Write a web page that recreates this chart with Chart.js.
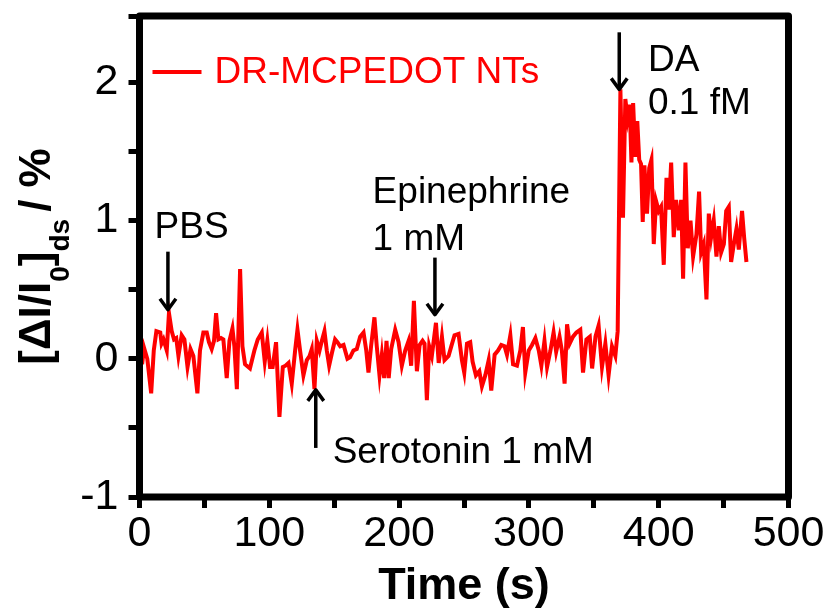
<!DOCTYPE html>
<html>
<head>
<meta charset="utf-8">
<title>DR-MCPEDOT NTs response</title>
<script src="https://cdn.jsdelivr.net/npm/chart.js@4.4.0/dist/chart.umd.min.js"></script>
<style>
    html, body { margin: 0; padding: 0; background: #fff; }
    canvas { display: block; }
</style>
</head>
<body>
<canvas id="responseChart" width="831" height="616"></canvas>
<script>
// Time (s) and normalized response [ΔI/I0]ds (%)
const times = [
    2, 3.5, 6, 9, 11, 13, 16, 17, 18.5, 21, 22.7, 24.8, 26.6, 28.3, 30, 32.5, 34.6, 37, 39.3, 41.5,
    44.6, 46.6, 49.2, 51.8, 53.5, 55.6, 57.4, 59, 60.8, 62.8, 64.6, 67.2, 69.3, 71.6, 73.1, 75, 77.5, 79.3, 81.3, 85.1,
    88.5, 91.1, 94.2, 96.5, 98.5, 100.6, 102.6, 105.2, 107.8, 110.4, 112.5, 114.8, 117.3, 119.9, 121.7, 123.7, 126.3, 128.9, 131, 132.7,
    134.8, 136.6, 138.7, 140.5, 142.5, 144.3, 146.1, 148.2, 150.7, 152.5, 154.6, 157.2, 160.2, 162.2, 164.8, 167.4, 170, 172.6, 174.7, 176.4,
    178.4, 181, 182.8, 184.9, 186.7, 188.5, 190.3, 192, 193.9, 197, 199.6, 202.1, 204.7, 207.3, 209.3, 211.4, 213.7, 215.8, 218.1, 219.6,
    221.4, 223.2, 225.2, 228.4, 230.5, 233, 235, 238.1, 240.2, 242.7, 245.8, 248.4, 250.2, 252.3, 254.8, 256.6, 259.2, 261.8, 263.8, 266.4,
    269, 271, 273.6, 276.2, 278.7, 281.3, 283.1, 285.7, 287.8, 290.8, 293.4, 295.4, 297.2, 299.9, 302.4, 305, 307.6, 309.6, 312, 314,
    316.6, 319, 321, 323.6, 325.4, 327.5, 329.4, 331.4, 334, 336.6, 339.6, 341.7, 344.3, 346.9, 348.7, 351.3, 353.7, 356.3, 358.9, 361.4,
    364, 366.6, 368.4, 370.5, 372.5, 374.3, 376, 377.6, 379, 380.3, 382, 383.5, 385, 386.4, 387.7, 389, 391, 392.7, 394.4, 396.2,
    398, 400, 401.8, 403.9, 406, 407.8, 409.6, 411.6, 413.4, 415.5, 417.3, 418.8, 420.6, 422.4, 424.5, 426.5, 429.1, 431.1, 432.7, 434.7,
    436.8, 438.6, 440.4, 442.4, 444.5, 446.3, 448.1, 450.2, 452, 454, 455.8, 457.9, 459.9, 461.7, 464.2, 465.8, 467.6
];
const signal = [
    -0.04, 0.08, 0.0, -0.25, 0.06, 0.2, 0.19, 0.11, 0.14, 0.06, 0.33, 0.2, 0.14, 0.15, 0.02, 0.17, 0.14, -0.06, 0.07, 0.02,
    -0.25, 0.06, 0.19, 0.19, 0.12, 0.07, 0.13, 0.33, 0.14, 0.15, 0.14, -0.14, 0.13, 0.22, 0.09, -0.22, 0.65, 0.09, -0.04, -0.07,
    0.06, 0.14, 0.19, -0.02, 0.13, -0.06, -0.06, 0.12, -0.42, -0.06, -0.05, -0.03, -0.18, 0.06, 0.21, 0.06, -0.12, -0.01, 0.02, 0.07,
    -0.22, 0.13, 0.06, 0.13, 0.2, 0.06, -0.05, 0.04, 0.14, 0.12, 0.09, 0.1, 0.0, 0.01, 0.06, 0.07, 0.16, 0.19, 0.06, -0.1,
    0.09, 0.30, 0.09, -0.12, 0.03, -0.14, 0.13, -0.14, 0.07, 0.21, 0.12, -0.05, 0.06, 0.13, -0.05, 0.42, -0.09, 0.1, 0.13, 0.11,
    -0.30, 0.09, 0.02, 0.26, -0.03, 0.16, -0.01, 0.02, 0.09, 0.17, 0.18, -0.01, -0.1, 0.11, 0.12, -0.02, -0.12, -0.09, -0.2, -0.12,
    -0.01, -0.23, 0.03, 0.06, 0.1, 0.09, 0.03, 0.17, -0.04, -0.05, 0.06, 0.23, -0.1, 0.06, 0.1, 0.15, 0.06, -0.05, 0.13, -0.06,
    0.06, 0.19, 0.05, 0.16, 0.06, -0.18, 0.25, 0.11, 0.16, 0.19, 0.21, -0.1, 0.14, 0.16, -0.07, 0.16, 0.24, -0.06, 0.11, -0.12,
    0.09, 0.02, 0.2, 1.95, 1.02, 1.88, 1.74, 1.84, 1.42, 1.85, 1.46, 1.72, 1.44, 1.41, 0.99, 1.40, 1.05, 1.38, 1.44, 0.83,
    1.14, 1.07, 1.10, 0.68, 1.31, 1.08, 1.42, 0.88, 1.15, 0.93, 1.15, 0.58, 1.42, 0.80, 1.0, 0.74, 0.90, 1.21, 0.77, 0.83,
    0.43, 1.05, 0.88, 1.0, 0.74, 0.96, 0.77, 0.83, 1.07, 1.10, 0.70, 0.83, 0.94, 0.79, 1.07, 0.88, 0.70
];

// Labelled tick values (the other ticks are unlabelled minor ticks)
const xTickLabels = [0, 100, 200, 300, 400, 500];
const yTickLabels = [-1, 0, 1, 2];

const seriesName = 'DR-MCPEDOT NTs';

// Injection markers: arrow at time x, from tail to tip (in response units)
const injections = [
    { lines: ['PBS'], x: 21.9, tail: 0.775, tip: 0.355, textX: 11.6, textY: [0.877] },
    { lines: ['Serotonin 1 mM'], x: 135.8, tail: -0.645, tip: -0.225, textX: 148.8, textY: [-0.754] },
    { lines: ['Epinephrine', '1 mM'], x: 227.6, tail: 0.732, tip: 0.319, textX: 179.6, textY: [1.13, 0.79] },
    { lines: ['DA', '0.1 fM'], x: 369.6, tail: 2.362, tip: 1.949, textX: 391.7, textY: [2.08, 1.768] }
];

const FONT = "'Liberation Sans', Arial, Helvetica, sans-serif";
const points = times.map((t, i) => ({ x: t, y: signal[i] }));

// Frame around the plot area, legend, arrows and the y title with subscripts
const decorations = {
    id: 'decorations',
    afterDraw(chart) {
        const ctx = chart.ctx;
        const area = chart.chartArea;
        const xs = chart.scales.x;
        const ys = chart.scales.y;

        ctx.save();
        ctx.strokeStyle = '#000';
        ctx.lineWidth = 7;
        ctx.lineJoin = 'round';
        ctx.strokeRect(area.left, area.top, area.right - area.left, area.bottom - area.top);

        // legend
        ctx.strokeStyle = '#ff0000';
        ctx.lineWidth = 4;
        ctx.beginPath();
        ctx.moveTo(area.left + 13, area.top + 56);
        ctx.lineTo(area.left + 62, area.top + 56);
        ctx.stroke();
        ctx.fillStyle = '#ff0000';
        ctx.font = '37px ' + FONT;
        ctx.textBaseline = 'middle';
        ctx.fillText(seriesName, area.left + 75, area.top + 57);

        // injection arrows and labels
        ctx.strokeStyle = '#000';
        ctx.fillStyle = '#000';
        ctx.lineWidth = 3.5;
        ctx.lineCap = 'butt';
        ctx.textBaseline = 'alphabetic';
        injections.forEach(function(m) {
            const px = xs.getPixelForValue(m.x);
            const yTail = ys.getPixelForValue(m.tail);
            const yTip = ys.getPixelForValue(m.tip);
            const dir = yTip > yTail ? 1 : -1;
            ctx.beginPath();
            ctx.moveTo(px, yTail);
            ctx.lineTo(px, yTip - dir * 2);
            ctx.stroke();
            ctx.beginPath();
            ctx.moveTo(px - 8, yTip - dir * 11);
            ctx.lineTo(px, yTip);
            ctx.lineTo(px + 8, yTip - dir * 11);
            ctx.stroke();
            m.lines.forEach(function(line, i) {
                ctx.fillText(line, xs.getPixelForValue(m.textX), ys.getPixelForValue(m.textY[i]));
            });
        });

        // y axis title: [ΔI/I0]ds / %
        const parts = [
            { t: '[\u0394I/I', size: 44, sub: false, gap: 0 },
            { t: '0', size: 28, sub: true, gap: 0 },
            { t: ']', size: 44, sub: false, gap: 0 },
            { t: 'ds', size: 28, sub: true, gap: 0 },
            { t: '/ %', size: 44, sub: false, gap: 7 }
        ];
        let total = 0;
        parts.forEach(function(p) {
            ctx.font = 'bold ' + p.size + 'px ' + FONT;
            p.w = ctx.measureText(p.t).width;
            total += p.w + p.gap;
        });
        ctx.translate(50, (area.top + area.bottom) / 2);
        ctx.rotate(-Math.PI / 2);
        let u = -total / 2;
        parts.forEach(function(p) {
            u += p.gap;
            ctx.font = 'bold ' + p.size + 'px ' + FONT;
            ctx.fillText(p.t, u, p.sub ? 19 : 0);
            u += p.w;
        });
        ctx.restore();
    }
};

new Chart(document.getElementById('responseChart'), {
    type: 'scatter',
    data: {
        datasets: [{
            label: seriesName,
            data: points,
            showLine: true,
            borderColor: '#ff0000',
            backgroundColor: '#ff0000',
            borderWidth: 4,
            pointRadius: 0,
            tension: 0
        }]
    },
    options: {
        responsive: false,
        animation: false,
        layout: { padding: { left: 0, right: 42.5, top: 16, bottom: 0 } },
        plugins: {
            legend: { display: false },
            tooltip: { enabled: false }
        },
        scales: {
            x: {
                type: 'linear',
                min: 0,
                max: 500,
                afterFit: function(scale) {
                    scale.height = 119;
                    scale.paddingLeft = 0;
                    scale.paddingRight = 0;
                },
                border: { display: false },
                grid: {
                    drawOnChartArea: false,
                    tickLength: 11,
                    tickWidth: 5,
                    tickColor: '#000'
                },
                ticks: {
                    stepSize: 50,
                    padding: 0,
                    color: '#000',
                    maxRotation: 0,
                    autoSkip: false,
                    font: { family: FONT, size: 43 },
                    callback: function(v) { return xTickLabels.includes(v) ? String(v) : ''; }
                },
                title: {
                    display: true,
                    text: 'Time (s)',
                    color: '#000',
                    font: { family: FONT, size: 45, weight: 'bold' },
                    padding: { top: 0, bottom: 2 }
                }
            },
            y: {
                min: -1,
                max: 2.48,
                afterFit: function(scale) {
                    scale.width = 139.5;
                    scale.paddingTop = 0;
                    scale.paddingBottom = 0;
                },
                border: { display: false },
                grid: {
                    drawOnChartArea: false,
                    tickLength: 11,
                    tickWidth: 5,
                    tickColor: '#000'
                },
                ticks: {
                    stepSize: 0.5,
                    padding: 10,
                    color: '#000',
                    autoSkip: false,
                    font: { family: FONT, size: 43 },
                    callback: function(v) { return yTickLabels.includes(v) ? String(v) : ''; }
                }
            }
        }
    },
    plugins: [decorations]
});
</script>
</body>
</html>
